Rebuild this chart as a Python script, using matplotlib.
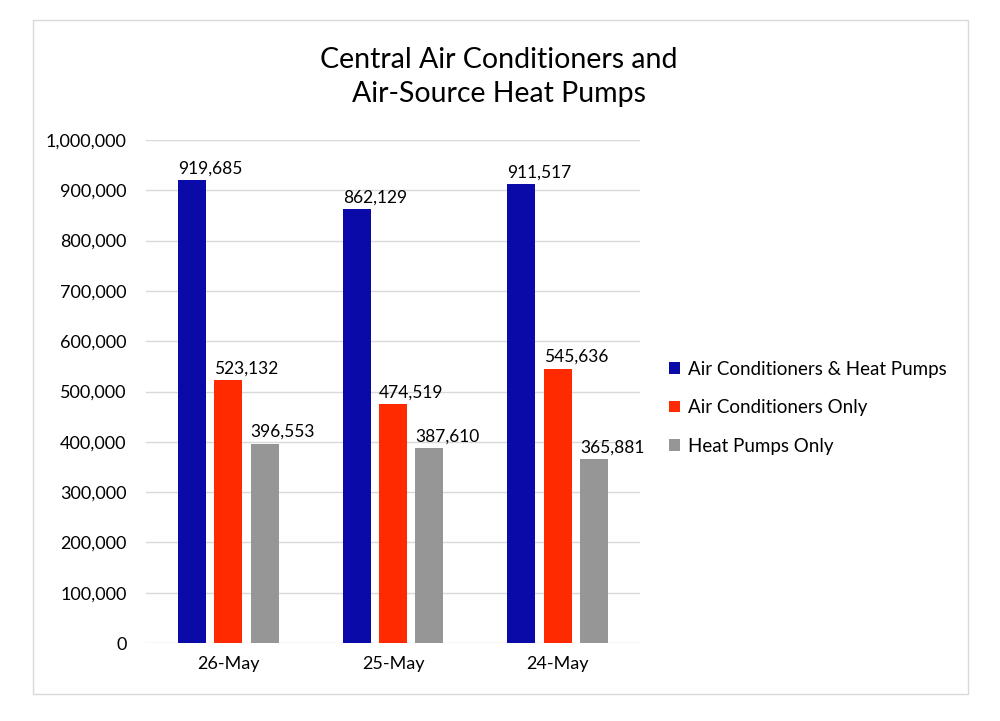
import matplotlib.pyplot as plt
import numpy as np
from matplotlib.patches import Rectangle
from matplotlib.ticker import FuncFormatter

# data
dates = ["26-May", "25-May", "24-May"]
series_names = ["Air Conditioners & Heat Pumps", "Air Conditioners Only", "Heat Pumps Only"]
both_units = [919685, 862129, 911517]
ac_only = [523132, 474519, 545636]
hp_only = [396553, 387610, 365881]

colors = ["#0a0aa8", "#ff2a00", "#969696"]
FONT = ["Lato", "DejaVu Sans"]
plt.rcParams["font.family"] = FONT

fig = plt.figure(figsize=(10, 7.21), dpi=100)
fig.patch.set_facecolor("white")

# outer chart border
fig.patches.append(Rectangle((0.033, 0.037), 0.935, 0.935, transform=fig.transFigure,
                             fill=False, edgecolor="#d9d9d9", lw=1))

ax = fig.add_axes([0.146, 0.108, 0.494, 0.698])
x = np.arange(len(dates))
width = 0.17
offsets = [-0.22, 0.0, 0.22]

for vals, name, col, off in zip([both_units, ac_only, hp_only], series_names, colors, offsets):
    bars = ax.bar(x + off, vals, width, color=col, label=name, zorder=3)
    for b, v in zip(bars, vals):
        ax.text(b.get_x(), v + 7000, f"{v:,}", ha="left", va="bottom",
                fontsize=12.5, color="black")

ax.set_xlim(-0.5, 2.5)
ax.set_ylim(0, 1000000)
ax.set_yticks(np.arange(0, 1000001, 100000))
ax.yaxis.set_major_formatter(FuncFormatter(lambda v, _p: f"{int(v):,}"))
ax.set_xticks(x)
ax.set_xticklabels(dates)
ax.tick_params(axis="both", length=0, labelsize=13, colors="black")
ax.tick_params(axis="x", pad=9)
ax.tick_params(axis="y", pad=14)
ax.grid(axis="y", color="#d9d9d9", lw=1, zorder=0)
for s in ax.spines.values():
    s.set_visible(False)

fig.text(0.499, 0.893, "Central Air Conditioners and\nAir-Source Heat Pumps",
         ha="center", va="center", fontsize=20.5, linespacing=1.4)

ax.legend(loc="center left", bbox_to_anchor=(1.025, 0.468), frameon=False,
          fontsize=13.5, handlelength=0.6, handleheight=0.6, handletextpad=0.4,
          labelspacing=1.15)

fig.savefig("out.png", dpi=100)
